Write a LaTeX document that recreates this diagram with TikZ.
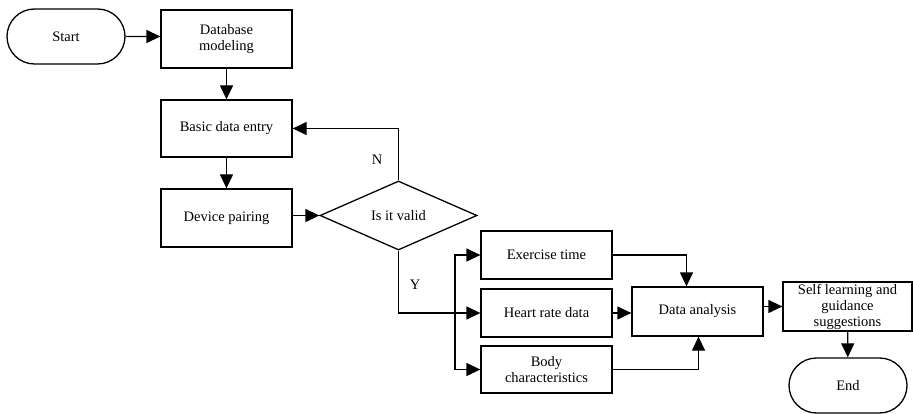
\documentclass[tikz,border=0pt]{standalone}
\usepackage{fontspec}
\setmainfont{Liberation Serif}
\usetikzlibrary{arrows.meta}
\usetikzlibrary{shapes.geometric}
\usetikzlibrary{shapes.misc}

\begin{document}
\begin{tikzpicture}[x=1pt, y=-1pt, line width=1.3pt,
    every node/.style={font=\fontsize{14.5}{16}\selectfont, align=center},
    box/.style={draw, rectangle, inner sep=0pt, minimum width=131pt},
    term/.style={draw, rounded rectangle, inner sep=0pt, minimum width=118pt, minimum height=55pt},
    decide/.style={draw, diamond, aspect=2.3, inner sep=0pt, minimum width=157pt, minimum height=69pt},
    arr/.style={-{Triangle[length=14pt, width=13pt]}}]
    \useasboundingbox (0,0) rectangle (913,414);
    % nodes
    \node[term] (start) at (66,36.5) {Start};
    \node[box, minimum height=58pt] (model) at (226.5,39) {Database\\modeling};
    \node[box, minimum height=57pt] (entry) at (226.5,128.5) {Basic data entry};
    \node[box, minimum height=58pt] (pairing) at (226.5,218) {Device pairing};
    \node[decide] (valid) at (398.5,215.5) {Is it valid};
    \node[box, minimum height=48pt] (extime) at (546.5,255) {Exercise time};
    \node[box, minimum height=48pt] (heart) at (546.5,313) {Heart rate data};
    \node[box, minimum height=47pt] (body) at (546.5,369.5) {Body\\characteristics};
    \node[box, minimum height=49pt] (analysis) at (697.5,311.5) {Data analysis};
    \node[box, minimum width=129pt, minimum height=49pt] (guide) at (847.5,306.5)
        {Self learning and\\guidance\\suggestions};
    \node[term] (end) at (848,385.5) {End};
    \coordinate (fork) at (455,313);
    % connectors
    \draw[arr] (start) -- (model.west |- start);
    \draw[arr] (model) -- (entry);
    \draw[arr] (entry) -- (pairing);
    \draw[arr] (pairing.east |- valid) -- (valid.west);
    \draw[arr] (valid.north) |- (entry.east);
    \node (nlabel) at (377,160) {N};
    \draw[arr] (valid.south) |- (heart.west);
    \node (ylabel) at (415,285) {Y};
    \draw[arr] (fork) |- (extime.west);
    \draw[arr] (fork) |- (body.west);
    \draw[arr] (extime.east) -| ([xshift=-11pt]analysis.north);
    \draw[arr] (heart.east) -- (analysis.west |- heart);
    \draw[arr] (body.east) -| ([xshift=1pt]analysis.south);
    \draw[arr] (analysis.east |- guide) -- (guide.west);
    \draw[arr] (guide) -- (end);
\end{tikzpicture}
\end{document}
